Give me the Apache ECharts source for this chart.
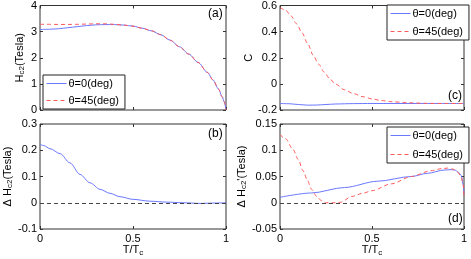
<!DOCTYPE html>
<html>
<head>
<meta charset="utf-8">
<script src="https://cdn.jsdelivr.net/npm/echarts@6/dist/echarts.min.js"></script>
<style>html,body{margin:0;padding:0;background:#fff}#c{width:471px;height:259px}</style>
</head>
<body>
<div id="c"></div>
<script>
// ---- data ----
const seriesNames = ['θ=0(deg)', 'θ=45(deg)'];
const xTicks = [0, 0.5, 1];
// (a) Hc2 (Tesla)
const hc2Theta0 = [[0,3.08],[0.05,3.09],[0.1,3.11],[0.15,3.15],[0.2,3.19],[0.25,3.23],[0.3,3.26],[0.35,3.27],[0.4,3.27],[0.45,3.25],[0.5,3.21],[0.55,3.13],[0.6,3.03],[0.65,2.88],[0.7,2.67],[0.75,2.42],[0.8,2.14],[0.85,1.82],[0.9,1.44],[0.93,1.15],[0.96,0.80],[0.98,0.50],[0.99,0.32],[1,0]];
const hc2Theta45 = [[0,3.28],[0.05,3.28],[0.1,3.275],[0.15,3.275],[0.2,3.28],[0.25,3.29],[0.3,3.30],[0.35,3.30],[0.4,3.28],[0.45,3.25],[0.5,3.21],[0.55,3.13],[0.6,3.03],[0.65,2.88],[0.7,2.67],[0.75,2.42],[0.8,2.14],[0.85,1.82],[0.9,1.44],[0.93,1.15],[0.96,0.80],[0.98,0.50],[0.99,0.32],[1,0]];
// (b) Delta Hc2 (Tesla)
const dHc2 = [[0,0.222],[0.02,0.218],[0.054,0.206],[0.108,0.187],[0.161,0.152],[0.215,0.108],[0.269,0.076],[0.323,0.051],[0.376,0.036],[0.43,0.023],[0.5,0.013],[0.59,0.006],[0.68,0.0025],[0.77,0],[0.86,-0.0025],[0.95,-0.001],[1,0]];
// (c) C
const cTheta0 = [[0,-0.15],[0.05,-0.152],[0.1,-0.158],[0.15,-0.163],[0.2,-0.162],[0.25,-0.158],[0.3,-0.154],[0.4,-0.151],[0.5,-0.15],[0.75,-0.15],[1,-0.15]];
const cTheta45 = [[0,0.585],[0.03,0.565],[0.06,0.52],[0.09,0.46],[0.12,0.39],[0.15,0.31],[0.18,0.22],[0.21,0.15],[0.24,0.09],[0.27,0.04],[0.3,0.0],[0.35,-0.045],[0.4,-0.075],[0.45,-0.098],[0.5,-0.115],[0.55,-0.127],[0.6,-0.136],[0.7,-0.145],[0.8,-0.149],[0.9,-0.15],[1,-0.15]];
// (d) Delta Hc2' (Tesla)
const dHc2pTheta0 = [[0,0.0104],[0.17,0.0186],[0.35,0.029],[0.53,0.041],[0.714,0.050],[0.8,0.056],[0.895,0.0624],[0.93,0.063],[0.95,0.0624],[0.97,0.058],[0.986,0.0516],[0.995,0.035],[1,0.017]];
const dHc2pTheta45 = [[0,0.13],[0.03,0.122],[0.07,0.102],[0.1,0.082],[0.125,0.061],[0.15,0.042],[0.17,0.026],[0.2,0.012],[0.225,0.004],[0.25,0.0],[0.3,0.0],[0.33,0.001],[0.39,0.012],[0.45,0.018],[0.5,0.023],[0.605,0.036],[0.714,0.05],[0.82,0.061],[0.88,0.065],[0.91,0.066],[0.94,0.064],[0.967,0.058],[0.985,0.048],[0.995,0.036],[1,0.011]];
// y axis ranges / ticks
const yA = {min:0, max:4, interval:1};
const yB = {min:-0.1, max:0.3, interval:0.1};
const yC = {min:-0.2, max:0.6, interval:0.2};
const yD = {min:-0.05, max:0.15, interval:0.05};

const FONT = 'Liberation Sans, Arial, Helvetica, sans-serif';
const BLUE = '#6a78ff';
const RED = '#ff5a5a';
const rich = {
  n: {fontSize: 11, fontFamily: FONT, color: '#000', lineHeight: 12},
  s: {fontSize: 8, fontFamily: FONT, color: '#000', lineHeight: 6, verticalAlign: 'bottom'}
};

const grids = [
  {left: 40, top: 5, width: 186, height: 105},
  {left: 40, top: 124, width: 186, height: 105},
  {left: 280, top: 5, width: 184, height: 105},
  {left: 280, top: 124, width: 184, height: 105}
].map(g => Object.assign({show: true, borderColor: '#333', borderWidth: 1, backgroundColor: '#fff'}, g));

const tick = {show: true, inside: true, length: 3, lineStyle: {color: '#333'}};
const noLine = {show: false, onZero: false};
const xAxes = [];
const yAxes = [];
const yRanges = [yA, yB, yC, yD];
const yNames = ['{n|H}{s|c2}{n|(Tesla)}', '{n|Δ H}{s|c2}{n|(Tesla)}', '{n|C}', "{n|Δ H}{s|c2}{n|'(Tesla)}"];
for (let i = 0; i < 4; i++) {
  const showX = (i === 1 || i === 3);
  xAxes.push({
    gridIndex: i, type: 'value', min: 0, max: 1, interval: 0.5, position: 'bottom',
    axisLine: noLine, axisTick: tick, splitLine: {show: false},
    axisLabel: {show: showX, color: '#000', fontSize: 11, fontFamily: FONT, margin: 4},
    name: showX ? '{n|T/T}{s|c}' : '', nameLocation: 'middle', nameGap: 15,
    nameTextStyle: {rich: rich}
  });
  yAxes.push(Object.assign({
    gridIndex: i, type: 'value', position: 'left',
    axisLine: noLine, axisTick: tick, splitLine: {show: false},
    axisLabel: {color: '#000', fontSize: 11, fontFamily: FONT, margin: 3},
    name: yNames[i], nameLocation: 'middle', nameRotate: 90, nameGap: i === 2 ? 25 : 14,
    nameTextStyle: {rich: rich}
  }, yRanges[i]));
}
for (let i = 0; i < 4; i++) {
  xAxes.push({gridIndex: i, type: 'value', min: 0, max: 1, interval: 0.5, position: 'top',
    axisLine: noLine, axisTick: tick, axisLabel: {show: false}, splitLine: {show: false}});
  yAxes.push(Object.assign({gridIndex: i, type: 'value', position: 'right',
    axisLine: noLine, axisTick: tick, axisLabel: {show: false}, splitLine: {show: false}}, yRanges[i]));
}

function line(name, data, idx, dashed) {
  return {
    name: name, type: 'line', xAxisIndex: idx, yAxisIndex: idx, data: data,
    symbol: 'none', smooth: 0.3, smoothMonotone: 'x', animation: false,
    lineStyle: {color: dashed ? RED : BLUE, width: 1, type: dashed ? [4, 3] : 'solid'},
    itemStyle: {color: dashed ? RED : BLUE}
  };
}
const zeroMark = {silent: true, symbol: 'none', label: {show: false},
  lineStyle: {color: '#444', width: 1, type: [4, 3]}, data: [{yAxis: 0}], animation: false};

const series = [
  line(seriesNames[0], hc2Theta0, 0, false),
  line(seriesNames[1], hc2Theta45, 0, true),
  Object.assign(line(seriesNames[0], dHc2, 1, false), {markLine: zeroMark}),
  line(seriesNames[0], cTheta0, 2, false),
  line(seriesNames[1], cTheta45, 2, true),
  Object.assign(line(seriesNames[0], dHc2pTheta0, 3, false), {markLine: zeroMark}),
  line(seriesNames[1], dHc2pTheta45, 3, true)
];

function legend(left, top, gap) {
  return {
    data: seriesNames, orient: 'vertical', left: left, top: top, selectedMode: false,
    itemWidth: 20, itemHeight: 8, itemGap: gap, padding: [3, 6, 3, 3],
    borderColor: '#222', borderWidth: 1, backgroundColor: '#fff',
    itemStyle: {opacity: 0},
    lineStyle: {width: 1},
    textStyle: {fontSize: 11, fontFamily: FONT, color: '#000', padding: [0, 0, 0, -3]}
  };
}

const labels = [['(a)', 208, 15], ['(b)', 208, 135], ['(c)', 448, 97], ['(d)', 448, 220]];

const chart = echarts.init(document.getElementById('c'), null, {renderer: 'canvas'});
chart.setOption({
  animation: false,
  grid: grids, xAxis: xAxes, yAxis: yAxes, series: series,
  legend: [legend(43, 75, 6), legend(387, 5, 7), legend(387, 127, 8)],
  graphic: labels.map(l => ({type: 'text', left: l[1], top: l[2] - 7, z: 100,
    style: {text: l[0], font: '12px ' + FONT, fill: '#000'}}))
});
</script>
</body>
</html>
